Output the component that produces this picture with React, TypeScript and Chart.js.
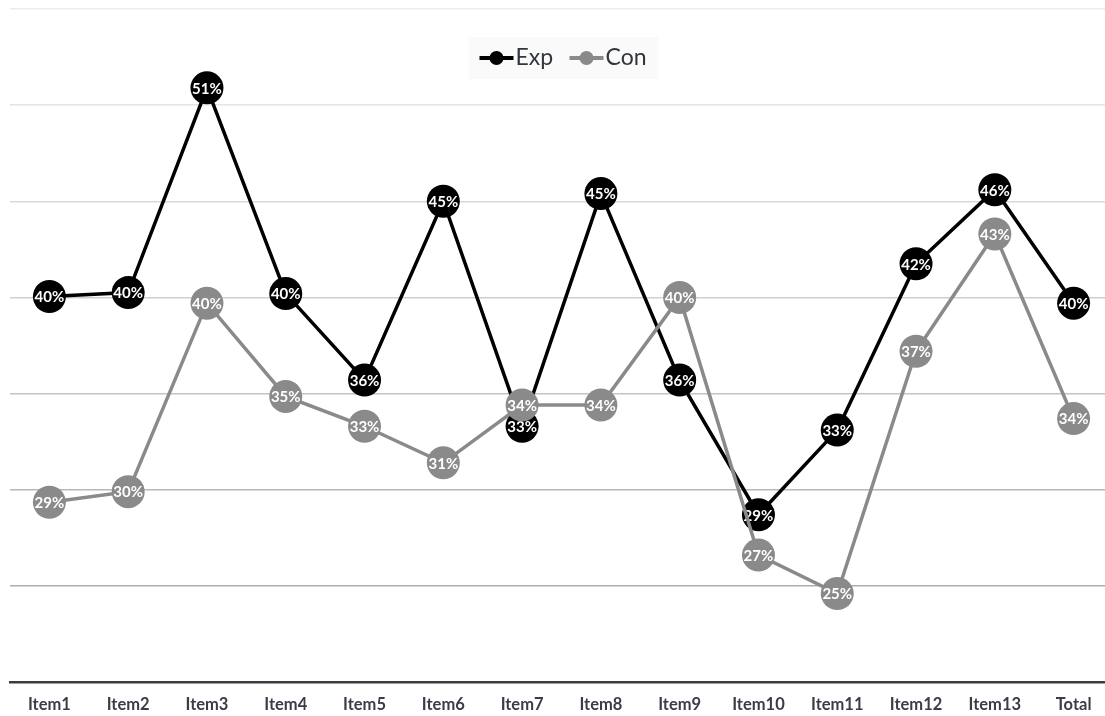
import React, { useEffect, useRef } from "react";
import { Chart, registerables } from "chart.js";

Chart.register(...registerables);

const categories = ["Item1", "Item2", "Item3", "Item4", "Item5", "Item6", "Item7", "Item8", "Item9", "Item10", "Item11", "Item12", "Item13", "Total"];
const expValues = [40.05, 40.25, 50.9, 40.2, 35.7, 45.0, 33.3, 45.4, 35.7, 28.7, 33.1, 41.75, 45.6, 39.7];
const conValues = [29.35, 29.9, 39.7, 34.85, 33.3, 31.4, 34.4, 34.4, 40.0, 26.6, 24.6, 37.2, 43.3, 33.7];
const seriesNames = ["Exp", "Con"];
const yMin = 20;
const yMax = 55;
const yStep = 5;

const FONT = "Lato, 'Open Sans', 'DejaVu Sans', sans-serif";
const EXP_COLOR = "#000000";
const CON_COLOR = "#8a8a8a";

const labelPlugin = {
  id: "pointLabels",
  afterDatasetDraw(chart: any, args: any) {
    const ctx = chart.ctx;
    const meta = args.meta;
    const ds = chart.data.datasets[args.index];
    ctx.save();
    ctx.font = `bold 15px ${FONT}`;
    ctx.fillStyle = "#ffffff";
    ctx.textAlign = "center";
    ctx.textBaseline = "middle";
    meta.data.forEach((el: any, i: number) => {
      const v = ds.data[i] as number;
      ctx.fillText(`${Math.round(v)}%`, el.x, el.y + 1);
    });
    ctx.restore();
  },
};

const legendPlugin = {
  id: "customLegend",
  afterDraw(chart: any) {
    const ctx = chart.ctx;
    const area = chart.chartArea;
    const cx = (area.left + area.right) / 2;
    const y = 58;
    ctx.save();
    ctx.fillStyle = "rgba(250,250,250,0.9)";
    ctx.fillRect(cx - 93, 37, 190, 42);
    ctx.font = `23px ${FONT}`;
    ctx.textBaseline = "middle";
    ctx.textAlign = "left";
    const items = [
      { name: seriesNames[0], color: EXP_COLOR, x: cx - 82 },
      { name: seriesNames[1], color: CON_COLOR, x: cx + 8 },
    ];
    items.forEach((it) => {
      ctx.strokeStyle = it.color;
      ctx.lineWidth = 4;
      ctx.beginPath();
      ctx.moveTo(it.x, y);
      ctx.lineTo(it.x + 34, y);
      ctx.stroke();
      ctx.fillStyle = it.color;
      ctx.beginPath();
      ctx.arc(it.x + 17, y, 7, 0, Math.PI * 2);
      ctx.fill();
      ctx.fillStyle = "#33363f";
      ctx.fillText(it.name, it.x + 36, y);
    });
    ctx.restore();
  },
};

const gridColors: Record<number, string> = {
  55: "#ececec",
  50: "#e4e4e4",
  45: "#dadada",
  40: "#cfcfcf",
  35: "#c4c4c4",
  30: "#b8b8b8",
  25: "#adadad",
  20: "rgba(0,0,0,0)",
};

export default function App() {
  const ref = useRef<HTMLCanvasElement>(null);

  useEffect(() => {
    if (!ref.current) return;
    const chart = new Chart(ref.current, {
      type: "line",
      data: {
        labels: categories,
        datasets: [
          {
            label: seriesNames[0],
            data: expValues,
            borderColor: EXP_COLOR,
            backgroundColor: EXP_COLOR,
            borderWidth: 3.5,
            pointRadius: 16.5,
            pointHoverRadius: 16.5,
            pointBorderWidth: 0,
            pointBackgroundColor: EXP_COLOR,
            tension: 0,
            order: 1,
          },
          {
            label: seriesNames[1],
            data: conValues,
            borderColor: CON_COLOR,
            backgroundColor: CON_COLOR,
            borderWidth: 3.5,
            pointRadius: 16.5,
            pointHoverRadius: 16.5,
            pointBorderWidth: 0,
            pointBackgroundColor: CON_COLOR,
            tension: 0,
            order: 0,
          },
        ],
      },
      options: {
        animation: false,
        responsive: false,
        maintainAspectRatio: false,
        layout: { autoPadding: false, padding: { left: 10, top: 9, right: 0, bottom: 0 } },
        plugins: {
          legend: { display: false },
          tooltip: { enabled: false },
        },
        scales: {
          x: {
            offset: true,
            grid: { display: false, drawTicks: false },
            border: { display: true, color: "#3c3c3c", width: 2.5 },
            ticks: {
              padding: 13,
              color: "#3a3d48",
              font: { family: FONT, size: 16.5, weight: "bold" },
              maxRotation: 0,
              autoSkip: false,
            },
            afterFit: (scale: any) => {
              scale.height = 34;
            },
          },
          y: {
            min: yMin,
            max: yMax,
            ticks: { display: false, stepSize: yStep },
            grid: {
              drawTicks: false,
              lineWidth: 1.5,
              color: (c: any) => gridColors[c.tick?.value] ?? "#d0d0d0",
            },
            border: { display: false },
          },
        },
      },
      plugins: [labelPlugin, legendPlugin],
    });
    return () => chart.destroy();
  }, []);

  return (
    <div style={{ position: "fixed", left: 0, top: 0, width: 1105, height: 716, overflow: "hidden", background: "#fff" }}>
      <canvas ref={ref} width={1113} height={716} style={{ display: "block" }} />
    </div>
  );
}
